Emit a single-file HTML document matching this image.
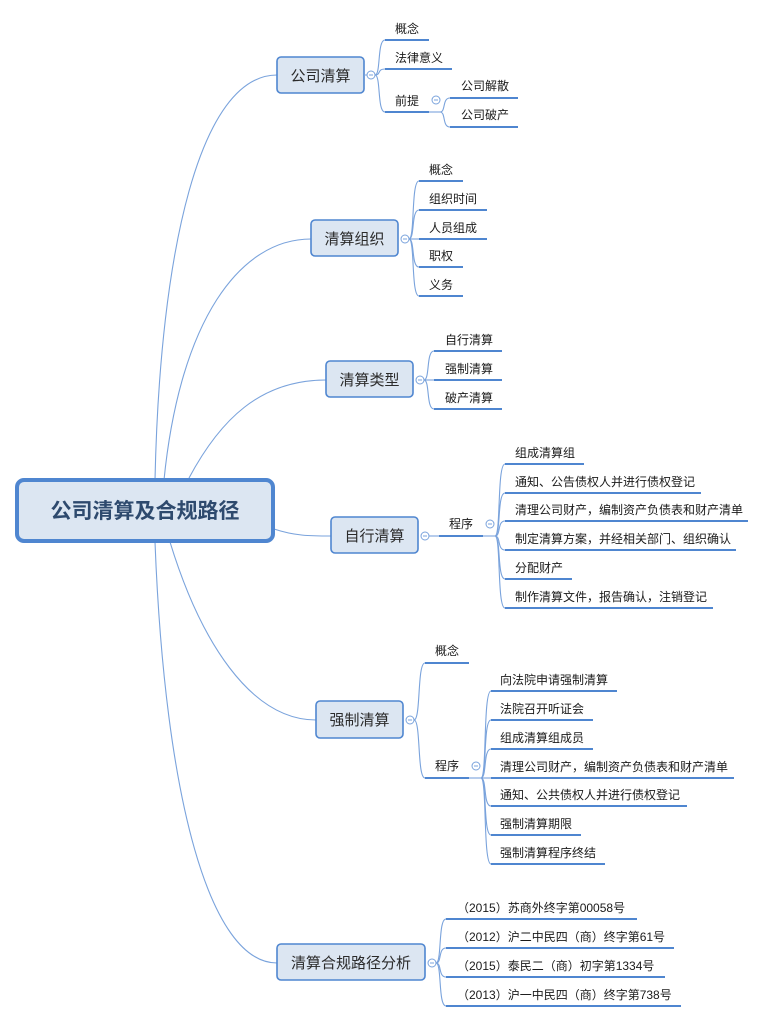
<!DOCTYPE html>
<html><head><meta charset="utf-8">
<style>
html,body{margin:0;padding:0;background:#fff;}
svg{display:block;}
text{font-family:"Liberation Sans","Noto Sans CJK SC",sans-serif;}
.l{font-size:12px;fill:#1a1a1a;}
.b{font-size:15px;fill:#2b2b2b;}
.u{stroke:#4f86d0;stroke-width:2;fill:none;}
.c{stroke:#7aa3dc;stroke-width:1.1;fill:none;}
.nb{fill:#dce6f2;stroke:#4f86d0;stroke-width:1.6;}
.cir{fill:#fff;stroke:#7aa3dc;stroke-width:1;}
.m{stroke:#7aa3dc;stroke-width:1;}
</style></head>
<body>
<svg width="764" height="1021" viewBox="0 0 764 1021" xmlns="http://www.w3.org/2000/svg">
<path class="c" d="M155,480 C160,250 200,75 277,75"/>
<path class="c" d="M164,480 C180,320 240,239 311,239"/>
<path class="c" d="M189,478 C220,420 260,380 326,380"/>
<path class="c" d="M274,529 C295,536 310,536 331,536"/>
<path class="c" d="M170,542 C200,640 250,720 316,720"/>
<path class="c" d="M155,542 C165,800 210,963 277,963"/>

<rect x="17" y="480" width="256" height="61" rx="7" fill="#dce6f2" stroke="#4f86d0" stroke-width="4"/>
<text x="145" y="518" text-anchor="middle" style="font-size:21px;font-weight:bold;fill:#2e4a6e">公司清算及合规路径</text>

<rect class="nb" x="277" y="57" width="87" height="36" rx="4"/>
<text class="b" x="320.5" y="81" text-anchor="middle">公司清算</text>
<line class="m" x1="364" y1="75" x2="367" y2="75"/>
<circle class="cir" cx="371" cy="75" r="4"/><line class="m" x1="369" y1="75" x2="373" y2="75"/>
<path class="c" d="M375,75 C381,75 377,40 385,40"/>
<path class="c" d="M375,75 C381,75 377,69 385,69"/>
<path class="c" d="M375,75 C381,75 377,112 385,112"/>
<line class="u" x1="385" y1="40" x2="429" y2="40"/><text class="l" x="395" y="33">概念</text>
<line class="u" x1="385" y1="69" x2="452" y2="69"/><text class="l" x="395" y="62">法律意义</text>
<line class="u" x1="385" y1="112" x2="429" y2="112"/><text class="l" x="395" y="105">前提</text>
<line class="c" x1="429" y1="112" x2="440" y2="112"/>
<circle class="cir" cx="436" cy="100" r="4"/><line class="m" x1="434" y1="100" x2="438" y2="100"/>
<path class="c" d="M440,112 C446,112 442,98 450,98"/>
<path class="c" d="M440,112 C446,112 442,127 450,127"/>
<line class="u" x1="450" y1="98" x2="518" y2="98"/><text class="l" x="461" y="90">公司解散</text>
<line class="u" x1="450" y1="127" x2="518" y2="127"/><text class="l" x="461" y="119">公司破产</text>

<rect class="nb" x="311" y="220" width="87" height="36" rx="4"/>
<text class="b" x="354.5" y="244" text-anchor="middle">清算组织</text>
<circle class="cir" cx="405" cy="239" r="4"/><line class="m" x1="403" y1="239" x2="407" y2="239"/>
<path class="c" d="M409,239 C415,239 411,181 419,181"/>
<path class="c" d="M409,239 C415,239 411,210 419,210"/>
<path class="c" d="M409,239 L419,239"/>
<path class="c" d="M409,239 C415,239 411,267 419,267"/>
<path class="c" d="M409,239 C415,239 411,296 419,296"/>
<line class="u" x1="419" y1="181" x2="463" y2="181"/><text class="l" x="429" y="174">概念</text>
<line class="u" x1="419" y1="210" x2="487" y2="210"/><text class="l" x="429" y="203">组织时间</text>
<line class="u" x1="419" y1="239" x2="487" y2="239"/><text class="l" x="429" y="232">人员组成</text>
<line class="u" x1="419" y1="267" x2="463" y2="267"/><text class="l" x="429" y="260">职权</text>
<line class="u" x1="419" y1="296" x2="463" y2="296"/><text class="l" x="429" y="289">义务</text>

<rect class="nb" x="326" y="361" width="87" height="36" rx="4"/>
<text class="b" x="369.5" y="385" text-anchor="middle">清算类型</text>
<circle class="cir" cx="420" cy="380" r="4"/><line class="m" x1="418" y1="380" x2="422" y2="380"/>
<path class="c" d="M424,380 C430,380 426,351 434,351"/>
<path class="c" d="M424,380 L434,380"/>
<path class="c" d="M424,380 C430,380 426,409 434,409"/>
<line class="u" x1="434" y1="351" x2="502" y2="351"/><text class="l" x="445" y="344">自行清算</text>
<line class="u" x1="434" y1="380" x2="502" y2="380"/><text class="l" x="445" y="373">强制清算</text>
<line class="u" x1="434" y1="409" x2="502" y2="409"/><text class="l" x="445" y="402">破产清算</text>

<rect class="nb" x="331" y="517" width="87" height="36" rx="4"/>
<text class="b" x="374.5" y="541" text-anchor="middle">自行清算</text>
<circle class="cir" cx="425" cy="536" r="4"/><line class="m" x1="423" y1="536" x2="427" y2="536"/>
<line class="c" x1="429" y1="536" x2="439" y2="536"/>
<line class="u" x1="439" y1="536" x2="483" y2="536"/><text class="l" x="449" y="528">程序</text>
<line class="c" x1="483" y1="536" x2="495" y2="536"/>
<circle class="cir" cx="490" cy="524" r="4"/><line class="m" x1="488" y1="524" x2="492" y2="524"/>
<path class="c" d="M495,536 C501,536 497,464 505,464"/>
<path class="c" d="M495,536 C501,536 497,493 505,493"/>
<path class="c" d="M495,536 C501,536 497,521 505,521"/>
<path class="c" d="M495,536 C501,536 497,550 505,550"/>
<path class="c" d="M495,536 C501,536 497,579 505,579"/>
<path class="c" d="M495,536 C501,536 497,608 505,608"/>
<line class="u" x1="505" y1="464" x2="584" y2="464"/><text class="l" x="515" y="457">组成清算组</text>
<line class="u" x1="505" y1="493" x2="701" y2="493"/><text class="l" x="515" y="486">通知、公告债权人并进行债权登记</text>
<line class="u" x1="505" y1="521" x2="748" y2="521"/><text class="l" x="515" y="514">清理公司财产，编制资产负债表和财产清单</text>
<line class="u" x1="505" y1="550" x2="736" y2="550"/><text class="l" x="515" y="543">制定清算方案，并经相关部门、组织确认</text>
<line class="u" x1="505" y1="579" x2="572" y2="579"/><text class="l" x="515" y="572">分配财产</text>
<line class="u" x1="505" y1="608" x2="713" y2="608"/><text class="l" x="515" y="601">制作清算文件，报告确认，注销登记</text>

<rect class="nb" x="316" y="701" width="87" height="37" rx="4"/>
<text class="b" x="359.5" y="725" text-anchor="middle">强制清算</text>
<circle class="cir" cx="410" cy="720" r="4"/><line class="m" x1="408" y1="720" x2="412" y2="720"/>
<path class="c" d="M414,720 C421,720 417,663 425,663"/>
<path class="c" d="M414,720 C421,720 417,778 425,778"/>
<line class="u" x1="425" y1="663" x2="469" y2="663"/><text class="l" x="435" y="655">概念</text>
<line class="u" x1="425" y1="778" x2="469" y2="778"/><text class="l" x="435" y="770">程序</text>
<line class="c" x1="469" y1="778" x2="481" y2="778"/>
<circle class="cir" cx="476" cy="766" r="4"/><line class="m" x1="474" y1="766" x2="478" y2="766"/>
<path class="c" d="M481,778 C487,778 483,691 491,691"/>
<path class="c" d="M481,778 C487,778 483,720 491,720"/>
<path class="c" d="M481,778 C487,778 483,749 491,749"/>
<path class="c" d="M481,778 L491,778"/>
<path class="c" d="M481,778 C487,778 483,806 491,806"/>
<path class="c" d="M481,778 C487,778 483,835 491,835"/>
<path class="c" d="M481,778 C487,778 483,864 491,864"/>
<line class="u" x1="491" y1="691" x2="617" y2="691"/><text class="l" x="500" y="684">向法院申请强制清算</text>
<line class="u" x1="491" y1="720" x2="593" y2="720"/><text class="l" x="500" y="713">法院召开听证会</text>
<line class="u" x1="491" y1="749" x2="593" y2="749"/><text class="l" x="500" y="742">组成清算组成员</text>
<line class="u" x1="491" y1="778" x2="734" y2="778"/><text class="l" x="500" y="771">清理公司财产，编制资产负债表和财产清单</text>
<line class="u" x1="491" y1="806" x2="687" y2="806"/><text class="l" x="500" y="799">通知、公共债权人并进行债权登记</text>
<line class="u" x1="491" y1="835" x2="581" y2="835"/><text class="l" x="500" y="828">强制清算期限</text>
<line class="u" x1="491" y1="864" x2="605" y2="864"/><text class="l" x="500" y="857">强制清算程序终结</text>

<rect class="nb" x="277" y="944" width="148" height="36" rx="4"/>
<text class="b" x="351" y="968" text-anchor="middle">清算合规路径分析</text>
<circle class="cir" cx="432" cy="963" r="4"/><line class="m" x1="430" y1="963" x2="434" y2="963"/>
<path class="c" d="M436,963 C442,963 438,919 446,919"/>
<path class="c" d="M436,963 C442,963 438,948 446,948"/>
<path class="c" d="M436,963 C442,963 438,977 446,977"/>
<path class="c" d="M436,963 C442,963 438,1006 446,1006"/>
<line class="u" x1="446" y1="919" x2="637" y2="919"/><text class="l" x="457" y="912">（2015）苏商外终字第00058号</text>
<line class="u" x1="446" y1="948" x2="674" y2="948"/><text class="l" x="457" y="941">（2012）沪二中民四（商）终字第61号</text>
<line class="u" x1="446" y1="977" x2="665" y2="977"/><text class="l" x="457" y="970">（2015）泰民二（商）初字第1334号</text>
<line class="u" x1="446" y1="1006" x2="681" y2="1006"/><text class="l" x="457" y="999">（2013）沪一中民四（商）终字第738号</text>
</svg>
</body></html>
